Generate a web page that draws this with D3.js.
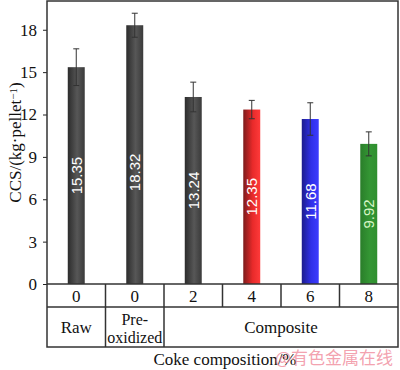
<!DOCTYPE html>
<html>
<head>
<meta charset="utf-8">
<script src="https://cdn.jsdelivr.net/npm/d3@7"></script>
<style>
	body { margin: 0; background: #fff; }
	svg { display: block; }
</style>
</head>
<body>
<div id="chart"></div>
<script>
// data
var cokeLabels = ['0', '0', '2', '4', '6', '8'];
var groupLabels = ['Raw', 'Pre-oxidized', 'Composite'];
var ccsValues = [15.35, 18.32, 13.24, 12.35, 11.68, 9.92];
var ccsErrors = [1.3, 0.85, 1.05, 0.65, 1.15, 0.85];
var yTicks = [0, 3, 6, 9, 12, 15, 18];

var barColors = [
	['#2c2c2c', '#575757', '#3a3a3a'],
	['#2c2c2c', '#575757', '#3a3a3a'],
	['#2c2c2c', '#575757', '#3a3a3a'],
	['#7c1c1c', '#e82a2a', '#ff3a3a'],
	['#1c1c8c', '#3030e8', '#3c3cff'],
	['#2a7e2a', '#349634', '#2f8f2f']
];
var labelColors = ['#fff', '#fff', '#fff', '#fff', '#fff', '#d8f5c8'];

var W = 400, H = 370;
var plotLeft = 47, plotRight = 398, plotTop = 1, base = 284;
var row1 = 307, row2 = 347;

var serif = '"Liberation Serif", "Times New Roman", serif';
var sans = '"Liberation Sans", Arial, sans-serif';

function draw() {
	var svg = d3.select('#chart').append('svg')
		.attr('width', W)
		.attr('height', H);

	var x = d3.scaleBand()
		.domain(d3.range(ccsValues.length))
		.range([plotLeft, plotRight])
		.paddingInner(0.71)
		.paddingOuter(0.355);

	var y = d3.scaleLinear()
		.domain([0, 20])
		.range([base, plotTop + 0.5]);

	// gradients for the shaded bars
	var defs = svg.append('defs');
	barColors.forEach(function (c, i) {
		var g = defs.append('linearGradient')
			.attr('id', 'grad' + i)
			.attr('x1', '0%').attr('x2', '100%')
			.attr('y1', '0%').attr('y2', '0%');
		g.append('stop').attr('offset', '0%').attr('stop-color', c[0]);
		g.append('stop').attr('offset', '55%').attr('stop-color', c[1]);
		g.append('stop').attr('offset', '100%').attr('stop-color', c[2]);
	});

	// bars
	svg.append('g')
		.selectAll('rect')
		.data(ccsValues)
		.enter()
		.append('rect')
		.attr('x', (d, i) => x(i))
		.attr('width', x.bandwidth())
		.attr('y', d => y(d))
		.attr('height', d => y(0) - y(d))
		.attr('fill', (d, i) => 'url(#grad' + i + ')');

	// error bars
	var err = svg.append('g')
		.attr('stroke', '#333')
		.attr('stroke-width', 1);
	ccsValues.forEach(function (v, i) {
		var cx = x(i) + x.bandwidth() / 2;
		var e = ccsErrors[i];
		err.append('line')
			.attr('x1', cx).attr('x2', cx)
			.attr('y1', y(v + e)).attr('y2', y(v - e));
		[v + e, v - e].forEach(function (t) {
			err.append('line')
				.attr('x1', cx - 3).attr('x2', cx + 3)
				.attr('y1', y(t)).attr('y2', y(t));
		});
	});

	// value labels, rotated inside the bars
	svg.append('g')
		.selectAll('text')
		.data(ccsValues)
		.enter()
		.append('text')
		.attr('transform', (d, i) => {
			var cx = x(i) + x.bandwidth() / 2;
			var cy = y(Math.min(d / 2, 7.9));
			return 'translate(' + cx + ',' + cy + ') rotate(-90)';
		})
		.attr('text-anchor', 'middle')
		.attr('dy', '0.36em')
		.attr('fill', (d, i) => labelColors[i])
		.attr('font-family', sans)
		.attr('font-size', 15)
		.text(d => d.toFixed(2));

	// y axis
	var yAxis = svg.append('g')
		.attr('transform', 'translate(' + plotLeft + ',0)')
		.call(d3.axisLeft(y).tickValues(yTicks).tickSize(4).tickPadding(6))
		.attr('font-family', serif)
		.attr('font-size', 17);
	yAxis.select('.domain').remove();
	yAxis.selectAll('line').attr('stroke', '#222');
	yAxis.selectAll('text').attr('fill', '#111');

	// frame and table lines
	var lines = svg.append('g')
		.attr('stroke', '#333')
		.attr('stroke-width', 1.5)
		.attr('fill', 'none');
	lines.append('rect')
		.attr('x', plotLeft).attr('y', plotTop)
		.attr('width', plotRight - plotLeft).attr('height', row2 - plotTop);
	lines.append('line')
		.attr('x1', plotLeft).attr('x2', plotRight)
		.attr('y1', base).attr('y2', base);
	lines.append('line')
		.attr('x1', plotLeft).attr('x2', plotRight)
		.attr('y1', row1).attr('y2', row1);
	var step = x.step();
	d3.range(1, cokeLabels.length).forEach(function (i) {
		var bx = plotLeft + step * i;
		lines.append('line')
			.attr('x1', bx).attr('x2', bx)
			.attr('y1', base).attr('y2', i <= 2 ? row2 : row1);
	});

	// table text
	var tbl = svg.append('g')
		.attr('text-anchor', 'middle')
		.attr('fill', '#111')
		.attr('font-family', serif)
		.attr('font-size', 17);
	tbl.selectAll('text.coke')
		.data(cokeLabels)
		.enter()
		.append('text')
		.attr('class', 'coke')
		.attr('x', (d, i) => x(i) + x.bandwidth() / 2)
		.attr('y', (base + row1) / 2)
		.attr('dy', '0.36em')
		.text(d => d);

	var mid2 = (row1 + row2) / 2;
	tbl.append('text')
		.attr('x', plotLeft + step / 2)
		.attr('y', mid2)
		.attr('dy', '0.36em')
		.text(groupLabels[0]);
	var preX = plotLeft + step * 1.5;
	tbl.append('text')
		.attr('x', preX)
		.attr('y', mid2 - 8)
		.attr('dy', '0.36em')
		.attr('font-size', 16)
		.text('Pre-');
	tbl.append('text')
		.attr('x', preX)
		.attr('y', mid2 + 10)
		.attr('dy', '0.36em')
		.attr('font-size', 16)
		.text('oxidized');
	tbl.append('text')
		.attr('x', plotLeft + step * 4)
		.attr('y', mid2)
		.attr('dy', '0.36em')
		.text(groupLabels[2]);

	// axis titles
	var yTitle = svg.append('text')
		.attr('transform', 'translate(15,' + (plotTop + base) / 2 + ') rotate(-90)')
		.attr('text-anchor', 'middle')
		.attr('dy', '0.36em')
		.attr('fill', '#111')
		.attr('font-family', serif)
		.attr('font-size', 17);
	yTitle.append('tspan').text('CCS/(kg·pellet');
	yTitle.append('tspan').attr('baseline-shift', '40%').attr('font-size', 11).text('−1');
	yTitle.append('tspan').text(')');

	svg.append('text')
		.attr('x', 225)
		.attr('y', 359)
		.attr('text-anchor', 'middle')
		.attr('dy', '0.36em')
		.attr('fill', '#111')
		.attr('font-family', serif)
		.attr('font-size', 17)
		.text('Coke composition/%');

	// watermark
	svg.append('text')
		.attr('x', 393)
		.attr('y', 358)
		.attr('text-anchor', 'end')
		.attr('dy', '0.36em')
		.attr('fill', '#f08a9a')
		.attr('fill-opacity', 0.8)
		.attr('font-family', '"Noto Sans CJK SC", sans-serif')
		.attr('font-size', 17)
		.text('@有色金属在线');
}

window.onload = draw;
</script>
</body>
</html>
